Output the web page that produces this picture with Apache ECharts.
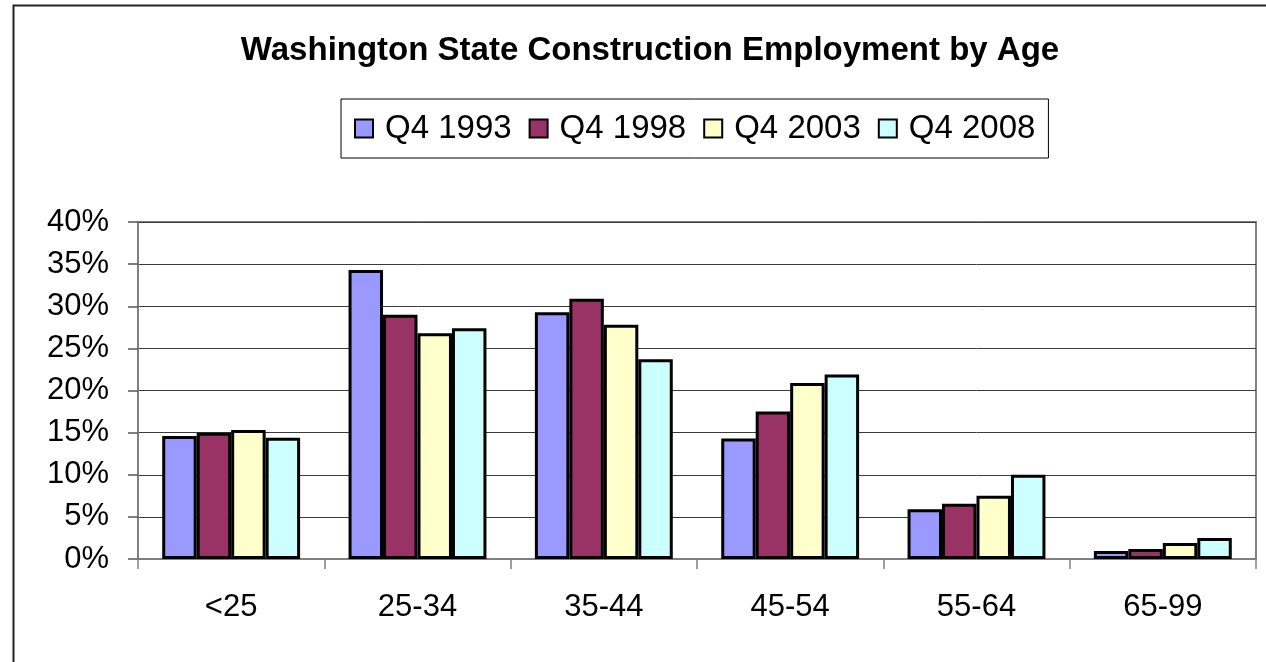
<!DOCTYPE html>
<html>
<head>
<meta charset="utf-8">
<script src="https://cdn.jsdelivr.net/npm/echarts@6/dist/echarts.min.js"></script>
<style>
html,body{margin:0;padding:0;background:#fff;}
#c{width:1266px;height:662px;}
</style>
</head>
<body>
<div id="c"></div>
<script>
const categories = ['<25', '25-34', '35-44', '45-54', '55-64', '65-99'];
const seriesNames = ['Q4 1993', 'Q4 1998', 'Q4 2003', 'Q4 2008'];
const q4_1993 = [14.6, 34.3, 29.3, 14.3, 5.9, 0.95];
const q4_1998 = [15.0, 29.0, 30.9, 17.5, 6.55, 1.2];
const q4_2003 = [15.3, 26.8, 27.8, 20.9, 7.5, 1.9];
const q4_2008 = [14.4, 27.4, 23.7, 21.9, 10.0, 2.5];
const colors = ['#9999FF', '#993366', '#FFFFCC', '#CCFFFF'];
const yTicks = { min: 0, max: 40, interval: 5 };

const FONT = '"Liberation Sans", Arial, sans-serif';
const seriesData = [q4_1993, q4_1998, q4_2003, q4_2008];

const chart = echarts.init(document.getElementById('c'), null, { renderer: 'canvas' });
chart.setOption({
  backgroundColor: '#ffffff',
  animation: false,
  title: {
    text: 'Washington State Construction Employment by Age',
    left: 645,
    top: 29,
    textAlign: 'center',
    textStyle: { fontFamily: FONT, fontSize: 33, fontWeight: 'bold', color: '#000' }
  },
  legend: {
    data: seriesNames,
    left: 341,
    top: 99,
    orient: 'horizontal',
    padding: [13, 13, 13, 13],
    borderColor: '#000',
    borderWidth: 1,
    itemWidth: 18,
    itemHeight: 18,
    itemGap: 17,
    icon: 'rect',
    itemStyle: { borderColor: '#000', borderWidth: 2 },
    textStyle: { fontFamily: FONT, fontSize: 33, color: '#000', padding: [0, 0, 0, 7] }
  },
  grid: {
    left: 138, right: 10, top: 222, bottom: 103,
    show: true,
    borderColor: '#808080',
    borderWidth: 2,
    backgroundColor: '#fff'
  },
  xAxis: {
    type: 'category',
    data: categories,
    axisLine: { lineStyle: { color: '#808080', width: 2 } },
    axisTick: { show: true, length: 10, lineStyle: { color: '#808080', width: 1.5 } },
    axisLabel: { fontFamily: FONT, fontSize: 31, color: '#000', margin: 33 }
  },
  yAxis: {
    type: 'value',
    min: yTicks.min, max: yTicks.max, interval: yTicks.interval,
    axisLine: { show: true, lineStyle: { color: '#808080', width: 2 } },
    axisTick: { show: true, length: 10, lineStyle: { color: '#555', width: 1.5 } },
    axisLabel: { fontFamily: FONT, fontSize: 31, color: '#000', margin: 29, formatter: '{value}%' },
    splitLine: { show: true, lineStyle: { color: '#3a3a3a', width: 1 } }
  },
  series: seriesNames.map((name, i) => ({
    name: name,
    type: 'bar',
    data: seriesData[i],
    barGap: '0%',
    barCategoryGap: '26%',
    itemStyle: { color: colors[i], borderColor: '#000', borderWidth: 3 }
  })),
  graphic: [{
    type: 'rect',
    left: 11, top: 3,
    shape: { x: 0, y: 0, width: 1300, height: 700 },
    style: { fill: 'none', stroke: '#222', lineWidth: 2 },
    silent: true,
    z: 100
  }]
});
</script>
</body>
</html>
